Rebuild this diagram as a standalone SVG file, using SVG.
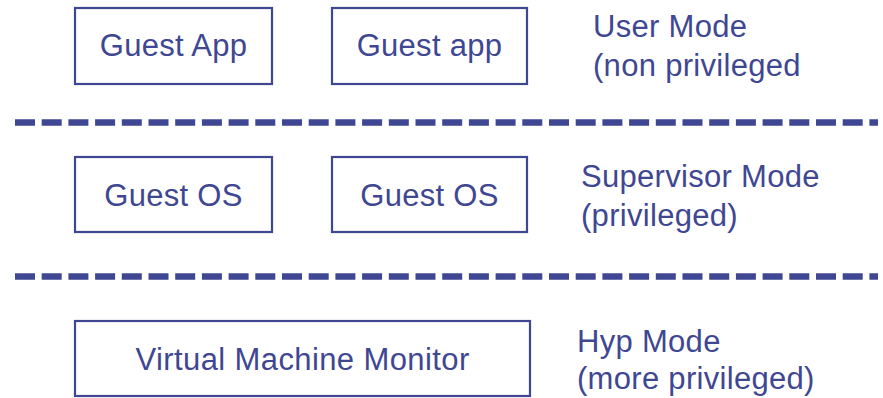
<svg xmlns="http://www.w3.org/2000/svg" width="883" height="398" viewBox="0 0 883 398">
<style>
.box{fill:#fff;stroke:#3f4792;stroke-width:2.2}
.t{font-family:"Liberation Sans",Arial,sans-serif;font-size:31px;letter-spacing:0.3px;fill:#3f4792}
.c{text-anchor:middle}
.dash{stroke:#3f4792;stroke-width:6.5;stroke-dasharray:20 6.7;fill:none}
</style>
<rect width="883" height="398" fill="#fff"/>
<g id="connectors">
<line class="dash" x1="15" y1="122.5" x2="878" y2="122.5"/>
<line class="dash" x1="15" y1="276.5" x2="878" y2="276.5"/>
</g>
<g id="guest-app-1"><rect class="box" x="75" y="8" width="197" height="76"/><text class="t c" x="173.5" y="56">Guest App</text></g>
<g id="guest-app-2"><rect class="box" x="332" y="8" width="195" height="76"/><text class="t c" x="429.5" y="56">Guest app</text></g>
<g id="guest-os-1"><rect class="box" x="75" y="157" width="197" height="75"/><text class="t c" x="173.5" y="206">Guest OS</text></g>
<g id="guest-os-2"><rect class="box" x="332" y="157" width="195" height="75"/><text class="t c" x="429.5" y="206">Guest OS</text></g>
<g id="vmm"><rect class="box" x="75" y="321" width="455" height="75"/><text class="t c" x="302.5" y="370" textLength="334">Virtual Machine Monitor</text></g>
<g id="labels">
<text class="t" x="593" y="37">User Mode</text>
<text class="t" x="593" y="76">(non privileged</text>
<text class="t" x="581" y="187">Supervisor Mode</text>
<text class="t" x="581" y="226">(privileged)</text>
<text class="t" x="577" y="352">Hyp Mode</text>
<text class="t" x="577" y="389">(more privileged)</text>
</g>
</svg>
